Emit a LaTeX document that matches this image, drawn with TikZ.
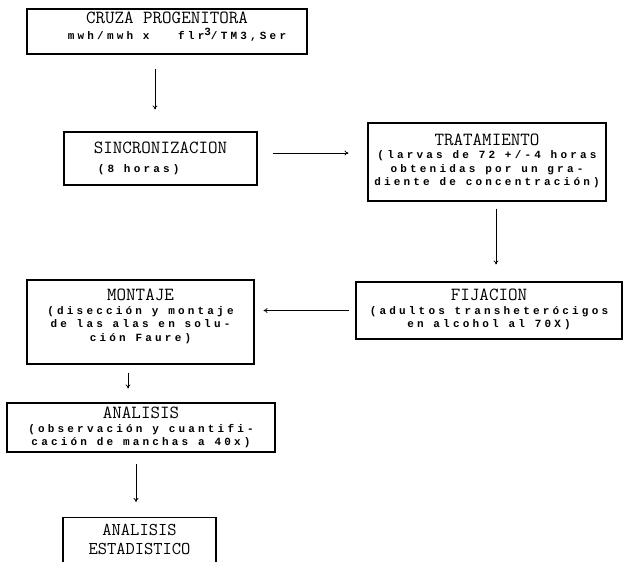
\documentclass[tikz,border=0pt]{standalone}
\usepackage{fontspec}
\newfontfamily\ttlfont{Latin Modern Mono}
\newfontfamily\bdyfont[LetterSpace=29]{Liberation Mono}
\usetikzlibrary{arrows.meta}
\newcommand{\ttl}{\ttlfont\mdseries\fontsize{18.5}{16.5}\selectfont}
\newcommand{\bdy}{\bdyfont\bfseries\fontsize{11}{13.5}\selectfont}

\begin{document}
\begin{tikzpicture}[x=1pt,y=-1pt,
  stepbox/.style={draw,line width=1.1pt,inner sep=0pt},
  steptext/.style={anchor=north,align=center,inner sep=0pt,font=\bdy},
  arr/.style={-{To[length=4pt,width=5pt]},line width=0.8pt}]
\useasboundingbox (0,0) rectangle (624,562);

\node[stepbox,minimum width=280pt,minimum height=45pt] at (167,31.5)    (cruza) {};
\node[stepbox,minimum width=193pt,minimum height=53pt] at (160.5,158.5) (sincro) {};
\node[stepbox,minimum width=238pt,minimum height=78pt] at (487,162)     (trat) {};
\node[stepbox,minimum width=266pt,minimum height=57pt] at (489,310.5)   (fija) {};
\node[stepbox,minimum width=227pt,minimum height=84pt] at (140.5,322)   (mont) {};
\node[stepbox,minimum width=268pt,minimum height=49pt] at (141,427.5)   (anal) {};
\node[stepbox,minimum width=153pt,minimum height=60pt,anchor=north] at (139.5,517) (estad) {};

\node[steptext] at ([yshift=-3pt]cruza.north)  (cruza-t)
  {{\ttl CRUZA PROGENITORA}\\[3pt] \hspace*{20pt}mwh/mwh x\hspace{2.6em}flr\raisebox{4pt}{3}/TM3,Ser};
\node[steptext,align=left] at ([yshift=-10.5pt]sincro.north) (sincro-t)
  {{\ttl SINCRONIZACION}\\[5pt] \hspace*{4pt}(8 horas)};
\node[steptext] at ([yshift=-11pt]trat.north)  (trat-t)
  {{\ttl TRATAMIENTO}\\ (larvas de 72 +/-4 horas\\ obtenidas por un gra-\\ diente de concentración)};
\node[steptext] at ([yshift=-7.5pt]fija.north) (fija-t)
  {{\ttl FIJACION}\\ (adultos transheterócigos\\ en alcohol al 70X)};
\node[steptext] at ([yshift=-9.5pt]mont.north) (mont-t)
  {{\ttl MONTAJE}\\ (disección y montaje\\ de las alas en solu-\\ ción Faure)};
\node[steptext] at ([yshift=-4.5pt]anal.north) (anal-t)
  {{\ttl ANALISIS}\\ (observación y cuantifi-\\ cación de manchas a 40x)};
\node[steptext,font=\ttlfont\fontsize{18}{18.5}\selectfont] at ([yshift=-7.5pt]estad.north) (estad-t)
  {ANALISIS\\ ESTADISTICO};

\draw[arr,shorten <=14pt,shorten >=22pt] ([xshift=-5.5pt]sincro.north |- cruza.south) -- ([xshift=-5.5pt]sincro.north);
\draw[arr,shorten <=15pt,shorten >=19pt] ([yshift=5.5pt]sincro.east) -- ([yshift=5.5pt]sincro.east -| trat.west);
\draw[arr,shorten <=7pt,shorten >=17pt] ([xshift=9pt]trat.south) -- ([xshift=9pt]trat.south |- fija.north);
\draw[arr,shorten <=6pt,shorten >=9pt] (fija.west) -- (fija.west -| mont.east);
\draw[arr,shorten <=8pt,shorten >=14pt] ([xshift=-12.5pt]mont.south) -- ([xshift=-12.5pt]mont.south |- anal.north);
\draw[arr,shorten <=11pt,shorten >=15pt] ([xshift=-3.5pt]estad.north |- anal.south) -- ([xshift=-3.5pt]estad.north);

\end{tikzpicture}
\end{document}
